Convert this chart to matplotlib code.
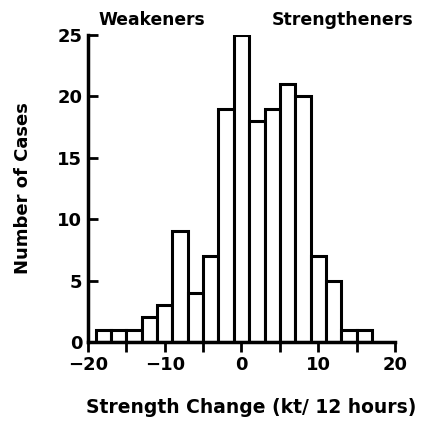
import numpy as np
import matplotlib
matplotlib.use("Agg")
import matplotlib.pyplot as plt

# bin centres (kt / 12 h) and number of cases
bin_centers = [-18, -16, -14, -12, -10, -8, -6, -4, -2, 0, 2, 4, 6, 8, 10, 12, 14, 16]
cases = [1, 1, 1, 2, 3, 9, 4, 7, 19, 25, 18, 19, 21, 20, 7, 5, 1, 1]
bin_width = 2

x_ticks = [-20, -15, -10, -5, 0, 5, 10, 15, 20]
x_labels = ["\u221220", "", "\u221210", "", "0", "", "10", "", "20"]
y_ticks = [0, 5, 10, 15, 20, 25]

plt.rcParams['font.family'] = ['DejaVu Sans']
plt.rcParams['font.weight'] = 'bold'

fig = plt.figure(figsize=(4.24, 4.21), dpi=100)
ax = fig.add_axes([0.2075, 0.1876, 0.7241, 0.7293])

ax.bar(bin_centers, cases, width=bin_width, color="white", edgecolor="black",
       linewidth=2.2, align="center", zorder=2)

ax.set_xlim(-20, 20)
ax.set_ylim(0, 25)
ax.spines['top'].set_visible(False)
ax.spines['right'].set_visible(False)
ax.spines['left'].set_linewidth(2.5)
ax.spines['bottom'].set_linewidth(2.5)
ax.spines['left'].set_zorder(3)
ax.spines['bottom'].set_zorder(3)

ax.set_xticks(x_ticks)
ax.set_xticklabels(x_labels, fontsize=13, fontweight='bold')
ax.set_yticks(y_ticks)
ax.set_yticklabels([str(v) for v in y_ticks], fontsize=13, fontweight='bold')
ax.tick_params(axis='x', direction='out', length=7, width=2, pad=3)
ax.tick_params(axis='y', direction='in', length=7, width=2, pad=4)

ax.set_xlabel("Strength Change (kt/ 12 hours)", fontsize=13.5, fontweight='bold',
              labelpad=17, x=0.53)
ax.set_ylabel("Number of Cases", fontsize=13, fontweight='bold', labelpad=18)

fig.text(0.358, 0.952, "Weakeners", fontsize=12.3, fontweight='bold', ha='center', va='center')
fig.text(0.807, 0.952, "Strengtheners", fontsize=12.5, fontweight='bold', ha='center', va='center')

fig.savefig("out.png", dpi=100)
